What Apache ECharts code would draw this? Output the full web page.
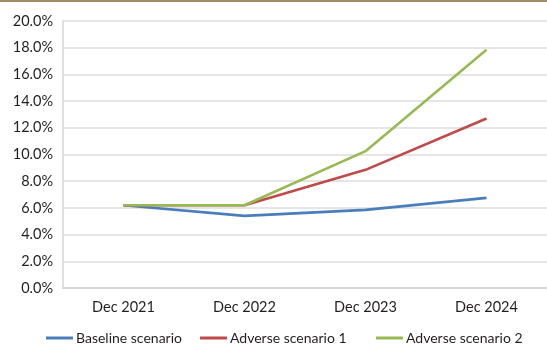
<!DOCTYPE html>
<html>
<head>
<meta charset="utf-8">
<script src="https://cdn.jsdelivr.net/npm/echarts@6/dist/echarts.min.js"></script>
<style>
  html, body { margin: 0; padding: 0; background: #fff; }
  #topline { position: absolute; left: 0; top: 0; width: 547px; height: 2px; background: #a38b68; }
  #chart { width: 547px; height: 347px; }
</style>
</head>
<body>
<div id="topline"></div>
<div id="chart"></div>
<script>
// categories and series (percent)
var categories = ['Dec 2021', 'Dec 2022', 'Dec 2023', 'Dec 2024'];
var baseline = [6.2, 5.4, 5.85, 6.75];
var adverse1 = [6.2, 6.2, 8.85, 12.7];
var adverse2 = [6.2, 6.2, 10.25, 17.85];
var seriesNames = ['Baseline scenario', 'Adverse scenario 1', 'Adverse scenario 2'];
var seriesColors = ['#4a7ebb', '#be4b48', '#98b954'];

var FONT = 'Lato';
var chart = echarts.init(document.getElementById('chart'));

function lineSeries(name, data, color) {
    return {
        name: name,
        type: 'line',
        data: data,
        symbol: 'none',
        z: 3,
        lineStyle: { color: color, width: 2.6 },
        itemStyle: { color: color }
    };
}

// one legend per item, spaced like the original (uneven gaps)
function legendItem(name, left) {
    return {
        left: left,
        top: 331,
        icon: 'rect',
        itemWidth: 27,
        itemHeight: 3,
        itemGap: 0,
        padding: 0,
        textStyle: { fontSize: 14, color: '#231f20', fontFamily: FONT, padding: [0, 0, 0, -2] },
        data: [name]
    };
}

var option = {
    animation: false,
    textStyle: { fontFamily: FONT, color: '#231f20' },
    grid: { left: 63, right: 0, top: 21, bottom: 59 },
    legend: [
        legendItem(seriesNames[0], 46),
        legendItem(seriesNames[1], 200),
        legendItem(seriesNames[2], 376)
    ],
    xAxis: {
        type: 'category',
        data: categories,
        boundaryGap: true,
        axisLine: { lineStyle: { color: '#d4d7d6', width: 2 } },
        axisTick: { show: false },
        axisLabel: { fontSize: 14.5, color: '#231f20', margin: 12 }
    },
    yAxis: {
        type: 'value',
        min: 0,
        max: 20,
        interval: 2,
        axisLine: { show: true, lineStyle: { color: '#d4d7d6', width: 1.5 } },
        axisTick: { show: false },
        splitLine: { lineStyle: { color: '#dcdcdc', width: 1.5 } },
        axisLabel: {
            fontSize: 14.5,
            color: '#231f20',
            margin: 10,
            formatter: function (v) { return v.toFixed(1) + '%'; }
        }
    },
    series: [
        lineSeries(seriesNames[0], baseline, seriesColors[0]),
        lineSeries(seriesNames[1], adverse1, seriesColors[1]),
        lineSeries(seriesNames[2], adverse2, seriesColors[2])
    ]
};

chart.setOption(option);
</script>
</body>
</html>
